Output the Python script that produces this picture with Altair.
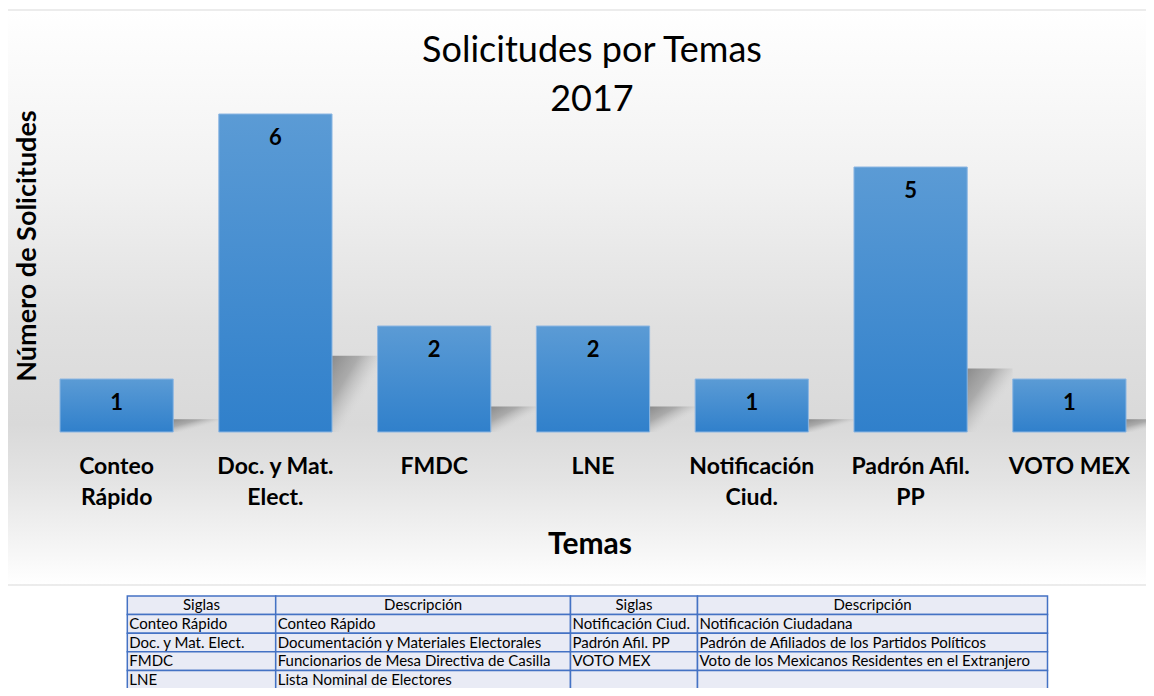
import altair as alt
import pandas as pd

# ---------------- data ----------------
categorias = ["Conteo Rápido", "Doc. y Mat. Elect.", "FMDC", "LNE",
              "Notificación Ciud.", "Padrón Afil. PP", "VOTO MEX"]
etiquetas = ["Conteo\nRápido", "Doc. y Mat.\nElect.", "FMDC", "LNE",
             "Notificación\nCiud.", "Padrón Afil.\nPP", "VOTO MEX"]
solicitudes = [1, 6, 2, 2, 1, 5, 1]

encabezados = ["Siglas", "Descripción", "Siglas", "Descripción"]
siglas_izq = ["Conteo Rápido", "Doc. y Mat. Elect.", "FMDC", "LNE"]
desc_izq = ["Conteo Rápido", "Documentación y Materiales Electorales",
            "Funcionarios de Mesa Directiva de Casilla", "Lista Nominal de Electores"]
siglas_der = ["Notificación Ciud.", "Padrón Afil. PP", "VOTO MEX", ""]
desc_der = ["Notificación Ciudadana", "Padrón de Afiliados de los Partidos Políticos",
            "Voto de los Mexicanos Residentes en el Extranjero", ""]

titulo = ["Solicitudes por Temas", "2017"]
titulo_y = "Número de Solicitudes"
titulo_x = "Temas"

FONT = "Lato"

# ---------------- frames ----------------
bars_df = pd.DataFrame({"tema": categorias, "etiqueta": etiquetas, "valor": solicitudes})
dummy = pd.DataFrame({"k": [0]})

xenc = alt.X("tema:N", sort=categorias,
             scale=alt.Scale(domain=categorias, paddingInner=0.287, paddingOuter=0),
             axis=None)
yscale = alt.Scale(domain=[0, 6], nice=False, zero=True)

fondo = alt.Chart(dummy).mark_rect(
    fill={"gradient": "linear", "x1": 0, "y1": 0, "x2": 0, "y2": 1,
          "stops": [{"offset": 0, "color": "#ffffff"},
                    {"offset": 0.3, "color": "#f1f1f1"},
                    {"offset": 0.55, "color": "#e0e0e0"},
                    {"offset": 0.72, "color": "#d9d9d9"},
                    {"offset": 0.82, "color": "#e4e4e4"},
                    {"offset": 1, "color": "#ffffff"}]},
    stroke="#d9d9d9", strokeWidth=1,
).encode(x=alt.value(-53), x2=alt.value(1100), y=alt.value(-104), y2=alt.value(471))

t1 = alt.Chart(dummy).mark_text(text=titulo[0], font=FONT, fontSize=36, fontWeight=400,
                                align="center", baseline="alphabetic", color="#000000"
                                ).encode(x=alt.value(532), y=alt.value(-52))
t2 = alt.Chart(dummy).mark_text(text=titulo[1], font=FONT, fontSize=36, fontWeight=400,
                                align="center", baseline="alphabetic", color="#000000"
                                ).encode(x=alt.value(532), y=alt.value(-3))
ty = alt.Chart(dummy).mark_text(text=titulo_y, font=FONT, fontSize=27, fontWeight="bold",
                                angle=270, align="center", baseline="middle", color="#000000"
                                ).encode(x=alt.value(-32), y=alt.value(132))
tx = alt.Chart(dummy).mark_text(text=titulo_x, font=FONT, fontSize=30, fontWeight="bold",
                                align="center", baseline="alphabetic", color="#000000"
                                ).encode(x=alt.value(530), y=alt.value(440))

base = alt.Chart(bars_df)

sombra = base.transform_calculate(sombra="datum.valor * 0.24").mark_bar(
    width=46, xOffset=79,
    fill={"gradient": "linear", "x1": 0, "y1": 0, "x2": 1, "y2": 1,
          "stops": [{"offset": 0, "color": "rgba(110,110,110,0.75)"},
                    {"offset": 0.3, "color": "rgba(130,130,130,0.55)"},
                    {"offset": 0.48, "color": "rgba(160,160,160,0.22)"},
                    {"offset": 0.62, "color": "rgba(210,210,210,0)"},
                    {"offset": 1, "color": "rgba(210,210,210,0)"}]},
).encode(x=xenc, y=alt.Y("sombra:Q", scale=yscale, axis=None))

barras = base.mark_bar(
    fill={"gradient": "linear", "x1": 0, "y1": 0, "x2": 0, "y2": 1,
          "stops": [{"offset": 0, "color": "#5b9bd5"},
                    {"offset": 1, "color": "#3080cb"}]},
    stroke="#8cb6e2", strokeWidth=1,
).encode(x=xenc, y=alt.Y("valor:Q", scale=yscale, axis=None))

valores = base.mark_text(dy=24, font=FONT, fontSize=22, fontWeight="bold",
                         baseline="middle", color="#000000"
                         ).encode(x=xenc, y=alt.Y("valor:Q", scale=yscale, axis=None),
                                  text="valor:Q")

cats = base.mark_text(font=FONT, fontSize=23, fontWeight="bold", lineBreak="\n",
                      lineHeight=31, baseline="alphabetic", color="#000000"
                      ).encode(x=xenc, y=alt.value(360), text="etiqueta:N")

# ---------------- table ----------------
trow = alt.Scale(domain=[0, 5], range=[482, 575], nice=False, zero=False)
bordes = [67.3, 215.7, 510.5, 637.5, 987.5]
columnas = [siglas_izq, desc_izq, siglas_der, desc_der]

tabla = []
for i, (enc, vals) in enumerate(zip(encabezados, columnas)):
    df = pd.DataFrame({"fila": list(range(5)), "texto": [enc] + list(vals)})
    izq, der = bordes[i], bordes[i + 1]
    c = alt.Chart(df).transform_calculate(fin="datum.fila + 1", mid="datum.fila + 0.5")
    celdas = c.mark_rect(fill="#e9ebf5", stroke="#4472c4", strokeWidth=1.5).encode(
        x=alt.value(izq), x2=alt.value(der),
        y=alt.Y("fila:Q", scale=trow, axis=None), y2="fin:Q")
    cab = c.transform_filter("datum.fila == 0").mark_text(
        font=FONT, fontSize=15, align="center", baseline="middle", color="#000000"
    ).encode(x=alt.value((izq + der) / 2), y=alt.Y("mid:Q", scale=trow, axis=None),
             text="texto:N")
    cuerpo = c.transform_filter("datum.fila > 0").mark_text(
        font=FONT, fontSize=15, align="left", baseline="middle", color="#000000"
    ).encode(x=alt.value(izq + 2), y=alt.Y("mid:Q", scale=trow, axis=None),
             text="texto:N")
    tabla += [celdas, cab, cuerpo]

chart = alt.layer(fondo, t1, t2, ty, tx, sombra, barras, valores, cats, *tabla).resolve_scale(
    y="independent"
).properties(
    width=1066, height=318,
    padding={"left": 52, "top": 106, "right": 20, "bottom": 256},
    autosize=alt.AutoSizeParams(type="none"),
).configure_view(stroke=None).configure(background="white")

chart.save("out.html", embed_options={"renderer": "svg", "actions": False})
